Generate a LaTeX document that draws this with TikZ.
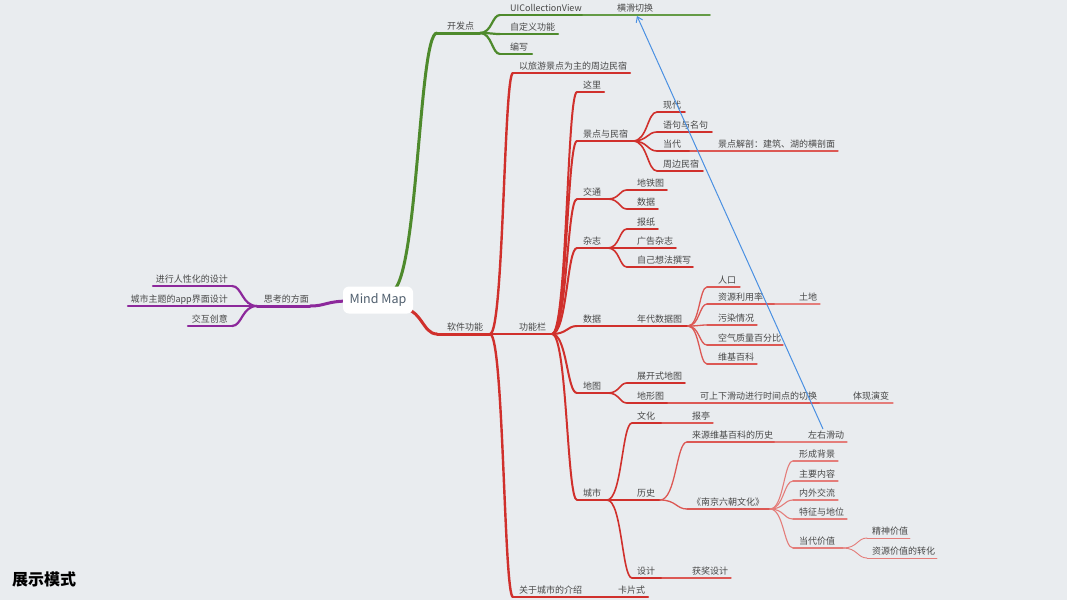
\documentclass[tikz,border=0pt]{standalone}
\usepackage{fontspec}
\setmainfont{Noto Sans CJK SC}
\usetikzlibrary{calc,arrows.meta}
\definecolor{bg}{RGB}{233,236,239}
\definecolor{cg}{RGB}{78,138,44}
\definecolor{cgl}{RGB}{100,155,70}
\definecolor{cr}{RGB}{208,48,44}
\definecolor{crl}{RGB}{220,88,84}
\definecolor{crll}{RGB}{228,125,122}
\definecolor{cp}{RGB}{140,40,155}
\definecolor{cb}{RGB}{74,144,226}
\definecolor{txt}{RGB}{72,72,72}
\definecolor{roottxt}{RGB}{80,95,110}
\tikzset{
  lbl/.style={font=\fontsize{9}{10}\selectfont, text=txt, inner sep=0pt},
  g1/.style={draw=cg, line width=3pt, line cap=round},
  g2/.style={draw=cg, line width=2.2pt, line cap=round},
  g3/.style={draw=cgl, line width=1.5pt, line cap=round},
  r1/.style={draw=cr, line width=3pt, line cap=round},
  r2/.style={draw=cr, line width=2.4pt, line cap=round},
  r3/.style={draw=cr, line width=2pt, line cap=round},
  r4/.style={draw=cr, line width=1.6pt, line cap=round},
  r5/.style={draw=crl, line width=1.3pt, line cap=round},
  r6/.style={draw=crll, line width=1.1pt, line cap=round},
  r7/.style={draw=crll, line width=0.9pt, line cap=round},
  p1/.style={draw=cp, line width=3pt, line cap=round},
  p2/.style={draw=cp, line width=2.2pt, line cap=round},
  rootbox/.style={fill=white, rounded corners=6pt, minimum width=70pt, minimum height=27pt, inner sep=0pt, text=roottxt, font=\fontsize{12.5}{14}\selectfont},
  barrow/.style={draw=cb, line width=1pt, -{Straight Barb[length=5pt,width=7pt]}},
  title/.style={font=\fontsize{16}{18}\selectfont\bfseries, text=black, inner sep=0pt}
}
% #1 name, #2 start x, #3 end x, #4 y, #5 text x, #6 style, #7 text
\newcommand{\topic}[7]{%
  \coordinate (#1s) at (#2,#4); \coordinate (#1e) at (#3,#4);
  \draw[#6] (#1s) -- (#1e);
  \node[lbl, anchor=base west] (#1) at (#5,#4-3.5) {#7};}
\newcommand{\ltopic}[7]{%
  \coordinate (#1s) at (#2,#4); \coordinate (#1e) at (#3,#4);
  \draw[#6] (#1s) -- (#1e);
  \node[lbl, anchor=base east] (#1) at (#5,#4-3.5) {#7};}
\newcommand{\conn}[3]{%
  \draw[#1] (#2) .. controls ($(#2)!0.6!(#2-|#3)$) and ($(#3-|#2)!0.6!(#3)$) .. (#3);}
\begin{document}
\begin{tikzpicture}[x=1pt,y=-1pt]
\useasboundingbox (0,0) rectangle (1067,600);
\fill[bg] (0,0) rectangle (1067,600);
\coordinate (rootT) at (390,292);
\coordinate (rootB) at (400,308);
\coordinate (rootL) at (350,301);
% green
\topic{kfd}{437}{480}{33}{447}{g1}{开发点}
\topic{uic}{500}{583}{15}{510}{g2}{UICollectionView}
\topic{hhqh}{583}{710}{15}{617}{g3}{横滑切换}
\topic{zdy}{500}{558}{34}{510}{g2}{自定义功能}
\topic{bx}{500}{532}{54}{510}{g2}{编写}
\conn{g1}{rootT}{kfds}
\conn{g2}{kfde}{uics}
\conn{g2}{kfde}{zdys}
\conn{g2}{kfde}{bxs}
% red level 1-2
\topic{rjgn}{437}{490}{334}{447}{r1}{软件功能}
\topic{lyjd}{513}{630}{73}{519}{r2}{以旅游景点为主的周边民宿}
\topic{gnl}{490}{552}{334}{519}{r2}{功能栏}
\topic{gycs}{513}{585}{597}{519}{r2}{关于城市的介绍}
\topic{kps}{585}{648}{597}{618}{r3}{卡片式}
\conn{r1}{rootB}{rjgns}
\conn{r2}{rjgne}{lyjds}
\conn{r2}{rjgne}{gycss}
% gongnenglan children
\topic{zl}{577}{604}{92}{583}{r3}{这里}
\topic{jdms}{577}{633}{141}{583}{r3}{景点与民宿}
\topic{jt}{577}{608}{199}{583}{r3}{交通}
\topic{zz}{577}{608}{248}{583}{r3}{杂志}
\topic{sj}{577}{630}{326}{583}{r3}{数据}
\topic{dt}{577}{608}{393}{583}{r3}{地图}
\topic{cs}{577}{607}{500}{583}{r3}{城市}
\foreach \c in {zl,jdms,jt,zz,sj,dt,cs} {\conn{r3}{gnle}{\c s}}
% jingdian yu minsu
\topic{xd}{657}{685}{112}{663}{r4}{现代}
\topic{jjmj}{657}{712}{132}{663}{r4}{语句与名句}
\topic{dd}{657}{690}{151}{663}{r4}{当代}
\topic{jdjp}{690}{838}{151}{718}{r5}{景点解剖：建筑、湖的横剖面}
\topic{zbms}{657}{703}{171}{663}{r4}{周边民宿}
\foreach \c in {xd,jjmj,dd,zbms} {\conn{r4}{jdmse}{\c s}}
% jiaotong
\topic{dtt}{627}{667}{190}{637}{r4}{地铁图}
\topic{jtsj}{627}{658}{209}{637}{r4}{数据}
\foreach \c in {dtt,jtsj} {\conn{r4}{jte}{\c s}}
% zazhi
\topic{bz}{627}{658}{229}{637}{r4}{报纸}
\topic{ggzz}{627}{676}{248}{637}{r4}{广告杂志}
\topic{zjxf}{627}{693}{267}{637}{r4}{自己想法撰写}
\foreach \c in {bz,ggzz,zjxf} {\conn{r4}{zze}{\c s}}
% shuju
\topic{ndsj}{630}{688}{326}{637}{r4}{年代数据图}
\topic{rk}{707}{740}{287}{718}{r5}{人口}
\topic{zyly}{707}{775}{304}{718}{r5}{资源利用率}
\topic{td}{775}{820}{304}{799}{r6}{土地}
\topic{wr}{707}{757}{325}{718}{r5}{污染情况}
\topic{kq}{707}{783}{345}{718}{r5}{空气质量百分比}
\topic{wj}{707}{757}{364}{718}{r5}{维基百科}
\foreach \c in {rk,zyly,wr,kq,wj} {\conn{r5}{ndsje}{\c s}}
% ditu
\topic{zks}{627}{685}{383}{637}{r4}{展开式地图}
\topic{dxt}{627}{668}{403}{637}{r4}{地形图}
\topic{ksx}{668}{820}{403}{700}{r5}{可上下滑动进行时间点的切换}
\topic{txyb}{820}{893}{403}{853}{r6}{体现演变}
\foreach \c in {zks,dxt} {\conn{r4}{dte}{\c s}}
% chengshi
\topic{wh}{632}{662}{423}{637}{r4}{文化}
\topic{bt}{662}{713}{423}{692}{r5}{报亭}
\topic{ls}{632}{660}{500}{637}{r4}{历史}
\topic{sjj}{632}{662}{578}{637}{r4}{设计}
\topic{hjsj}{662}{731}{578}{692}{r5}{获奖设计}
\foreach \c in {wh,ls,sjj} {\conn{r4}{cse}{\c s}}
% lishi
\topic{lywj}{687}{775}{442}{692}{r5}{来源维基百科的历史}
\topic{zyhd}{775}{847}{442}{808}{r6}{左右滑动}
\topic{nj}{687}{770}{509}{692}{r5}{《南京六朝文化》}
\foreach \c in {lywj,nj} {\conn{r5}{lse}{\c s}}
% nanjing
\topic{xcbj}{793}{838}{461}{799}{r6}{形成背景}
\topic{zynr}{793}{838}{481}{799}{r6}{主要内容}
\topic{nwjl}{793}{838}{500}{799}{r6}{内外交流}
\topic{tzdw}{793}{847}{519}{799}{r6}{特征与地位}
\topic{ddjz}{793}{843}{548}{799}{r6}{当代价值}
\foreach \c in {xcbj,zynr,nwjl,tzdw,ddjz} {\conn{r6}{nje}{\c s}}
\topic{jsjz}{867}{910}{538}{872}{r7}{精神价值}
\topic{zyjz}{867}{937}{558}{872}{r7}{资源价值的转化}
\foreach \c in {jsjz,zyjz} {\conn{r7}{ddjze}{\c s}}
% purple
\ltopic{sk}{310}{257}{306}{309}{p1}{思考的方面}
\ltopic{rxh}{232}{153}{286}{228}{p2}{进行人性化的设计}
\ltopic{app}{232}{128}{306}{228}{p2}{城市主题的app界面设计}
\ltopic{jhcy}{232}{188}{326}{228}{p2}{交互创意}
\conn{p1}{rootL}{sks}
\foreach \c in {rxh,app,jhcy} {\conn{p2}{ske}{\c s}}
% root
\node[rootbox] (root) at (378,300) {Mind Map};
% blue arrow
\coordinate (arrS) at (823,429);
\coordinate (arrE) at (637,16);
\draw[barrow] (arrS) -- (arrE);
% title
\node[title, anchor=base west] (mode) at (12,585) {展示模式};
\end{tikzpicture}
\end{document}
